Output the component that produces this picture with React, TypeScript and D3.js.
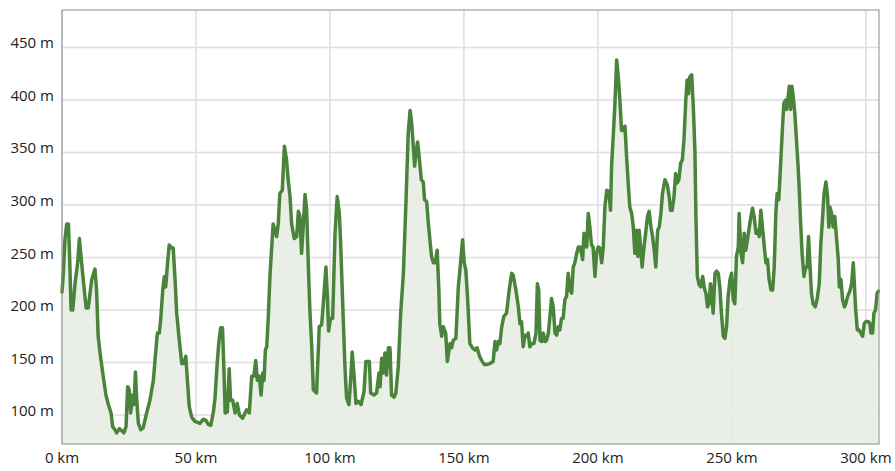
import React from "react";
import * as d3 from "d3";

const distanceKm: number[] = [
  0, 0.5, 1.1, 1.75, 2.4, 2.8, 3.4, 4.0, 4.85, 5.85, 6.5, 7.0, 7.7, 9.0, 9.8, 11.1, 12.3, 12.9, 13.5, 14.2,
  15.2, 16.4, 17.3, 18.3, 18.9, 19.8, 20.4, 21.4, 22.3, 23.1, 23.9, 24.5, 25.1, 25.6, 26.4, 26.9, 27.4, 27.9, 28.5, 29.4,
  30.3, 31.6, 32.8, 34.1, 34.7, 35.6, 36.3, 36.8, 37.6, 38.2, 38.7, 39.4, 40.0, 40.9, 41.5, 42.2, 42.8, 43.7, 44.7, 45.5,
  46.2, 46.8, 47.5, 48.4, 49.6, 51.5, 52.7, 53.7, 54.6, 55.5, 56.5, 57.1, 57.9, 58.6, 59.2, 59.9, 60.4, 60.9, 61.7, 62.4,
  62.9, 63.7, 64.6, 65.4, 66.2, 67.4, 68.9, 69.9, 70.8, 71.6, 72.3, 72.9, 73.6, 74.3, 74.9, 75.4, 75.9, 76.4, 77.0, 77.6,
  78.8, 80.1, 80.7, 81.3, 82.2, 83.0, 83.8, 84.4, 85.1, 85.7, 86.7, 87.6, 88.2, 88.8, 89.4, 90.0, 90.7, 91.3, 91.9, 92.5,
  93.2, 93.8, 95.0, 96.0, 96.9, 97.5, 98.5, 99.0, 99.5, 100.2, 101.0, 101.9, 102.7, 103.5, 104.0, 104.7, 105.6, 106.2, 107.1, 107.7,
  108.3, 109.0, 109.7, 110.6, 111.6, 112.7, 113.4, 114.7, 115.2, 116.4, 117.4, 118.3, 118.7, 119.3, 119.9, 120.5, 121.1, 121.8, 122.4, 123.0,
  123.9, 124.6, 125.5, 126.4, 127.4, 128.4, 129.2, 129.9, 130.5, 131.1, 131.6, 132.1, 132.7, 133.3, 134.1, 134.8, 135.3, 136.1, 136.7, 137.3,
  137.9, 138.6, 139.3, 140.0, 140.6, 141.0, 141.7, 142.3, 143.2, 143.8, 144.8, 145.4, 146.0, 147.0, 147.9, 148.5, 149.5, 150.1, 150.7, 151.4,
  152.2, 153.2, 154.1, 154.9, 155.7, 156.6, 157.6, 158.5, 159.7, 160.9, 161.6, 162.2, 162.8, 163.4, 164.1, 164.9, 165.9, 166.9, 167.8, 168.4,
  169.4, 170.3, 170.9, 171.5, 172.1, 172.8, 173.4, 174.0, 174.6, 175.3, 176.1, 176.9, 177.4, 177.9, 178.4, 179.0, 179.6, 180.2, 180.8, 181.5,
  182.1, 182.7, 183.3, 184.0, 184.6, 185.2, 185.8, 186.4, 187.0, 187.7, 188.3, 188.9, 189.6, 190.2, 190.8, 191.4, 192.1, 192.7, 193.3, 193.9,
  194.3, 194.8, 195.4, 195.8, 196.4, 197.0, 197.6, 198.2, 198.9, 199.5, 200.1, 200.7, 201.4, 202.0, 202.6, 203.3, 204.1, 204.7, 205.1, 205.7,
  206.3, 207.0, 207.6, 208.2, 208.8, 209.5, 210.1, 210.7, 211.3, 211.9, 212.6, 213.2, 213.8, 214.4, 214.9, 215.4, 215.9, 216.5, 217.2, 217.8,
  218.5, 219.1, 219.8, 220.4, 221.0, 221.6, 222.3, 222.9, 223.5, 224.1, 225.0, 225.9, 226.6, 227.1, 227.7, 228.4, 229.0, 229.6, 230.2, 230.9,
  231.5, 232.1, 232.8, 233.3, 233.8, 234.3, 235.0, 235.6, 236.2, 236.6, 237.1, 237.8, 238.4, 239.1, 239.7, 240.3, 240.9, 241.5, 242.0, 242.5,
  243.0, 243.7, 244.3, 244.9, 245.5, 246.1, 246.8, 247.4, 248.0, 248.6, 249.3, 249.9, 250.5, 251.1, 251.7, 252.4, 252.7, 253.4, 254.0, 254.6,
  255.2, 255.8, 256.5, 257.1, 257.7, 258.3, 259.0, 259.6, 260.2, 260.8, 261.4, 262.1, 262.7, 263.3, 263.9, 264.6, 265.2, 265.8, 266.4, 266.9,
  267.5, 268.2, 268.9, 269.4, 270.1, 270.4, 271.0, 271.4, 271.9, 272.4, 272.9, 273.5, 274.1, 274.7, 275.1, 275.6, 276.2, 276.9, 277.5, 278.1,
  278.6, 279.1, 279.7, 280.3, 281.1, 281.8, 282.6, 283.2, 283.8, 284.4, 285.1, 285.7, 286.2, 286.6, 287.2, 287.8, 288.4, 289.1, 289.7, 290.1,
  290.7, 291.3, 292.0, 292.5, 293.2, 294.0, 294.7, 295.3, 295.7, 296.2, 296.8, 297.5, 298.1, 298.8, 299.4, 300.0, 300.9, 301.5, 301.9, 302.5,
  303.0, 303.6, 304.2, 304.7,
];

const elevationM: number[] = [
  217, 235, 267, 282, 282, 254, 200, 200, 225, 245, 268, 254, 235, 202, 202, 229, 239, 219, 175, 159,
  140, 119, 110, 102, 89, 86, 83, 87, 85, 83, 89, 127, 124, 102, 119, 110, 141, 114, 92, 86,
  88, 102, 114, 133, 152, 178, 178, 190, 219, 232, 222, 245, 262, 259, 259, 229, 197, 173, 149, 149,
  156, 133, 108, 98, 94, 92, 96, 95, 91, 90, 103, 116, 149, 171, 183, 183, 146, 102, 103, 144,
  114, 114, 102, 111, 100, 97, 105, 102, 137, 137, 152, 133, 137, 119, 140, 133, 162, 165, 194, 232,
  282, 270, 282, 311, 314, 356, 343, 324, 308, 282, 268, 270, 294, 289, 254, 279, 310, 295, 245, 200,
  165, 124, 121, 184, 186, 205, 241, 215, 180, 192, 192, 273, 308, 292, 263, 210, 146, 116, 110, 133,
  160, 137, 111, 113, 110, 122, 151, 151, 121, 119, 121, 140, 127, 154, 140, 159, 138, 164, 164, 119,
  117, 121, 146, 197, 235, 305, 368, 390, 378, 356, 337, 349, 360, 346, 324, 322, 305, 303, 283, 267,
  251, 245, 245, 257, 222, 187, 175, 184, 178, 151, 168, 164, 171, 173, 222, 238, 267, 245, 238, 210,
  168, 164, 162, 164, 157, 152, 148, 148, 149, 151, 170, 162, 170, 168, 184, 194, 197, 219, 235, 233,
  219, 203, 187, 189, 165, 176, 175, 178, 165, 168, 168, 178, 225, 219, 171, 170, 178, 170, 171, 178,
  194, 211, 203, 178, 176, 184, 181, 192, 192, 210, 213, 235, 219, 216, 241, 245, 254, 260, 260, 254,
  248, 273, 270, 260, 292, 279, 262, 260, 232, 254, 260, 259, 245, 260, 298, 314, 313, 295, 337, 365,
  394, 438, 422, 400, 371, 371, 375, 346, 321, 298, 292, 279, 254, 276, 251, 276, 260, 241, 260, 273,
  289, 294, 279, 270, 257, 241, 276, 279, 292, 311, 324, 319, 308, 295, 295, 308, 330, 321, 324, 340,
  343, 362, 400, 419, 406, 422, 424, 394, 352, 286, 232, 224, 222, 232, 221, 216, 203, 206, 225, 219,
  197, 235, 237, 235, 222, 197, 175, 173, 184, 213, 229, 235, 210, 206, 251, 260, 292, 254, 245, 273,
  257, 267, 279, 289, 297, 289, 273, 276, 270, 295, 279, 260, 245, 248, 229, 219, 219, 241, 292, 311,
  305, 340, 375, 397, 400, 391, 403, 413, 391, 413, 403, 387, 362, 337, 317, 286, 254, 232, 241, 241,
  270, 245, 216, 206, 203, 210, 225, 264, 286, 311, 322, 308, 279, 298, 292, 279, 289, 267, 248, 222,
  229, 210, 203, 206, 213, 218, 225, 245, 225, 200, 181, 181, 178, 175, 187, 189, 189, 187, 178, 178,
  197, 200, 216, 218,
];

const xTicks: number[] = [0, 50, 100, 150, 200, 250, 300];
const yTicks: number[] = [100, 150, 200, 250, 300, 350, 400, 450];

const W = 895;
const H = 471;
const M = { left: 62, right: 16, top: 10, bottom: 27 };

export default function App() {
  const x = d3
    .scaleLinear()
    .domain([0, 304.9])
    .range([M.left, W - M.right]);
  const y = d3
    .scaleLinear()
    .domain([72.4, 485.7])
    .range([H - M.bottom, M.top]);

  const pts = distanceKm.map((d, i) => [d, elevationM[i]] as [number, number]);
  const line = d3
    .line<[number, number]>()
    .x((d) => x(d[0]))
    .y((d) => y(d[1]));
  const area = d3
    .area<[number, number]>()
    .x((d) => x(d[0]))
    .y0(H - M.bottom)
    .y1((d) => y(d[1]));

  const font = "'Open Sans', sans-serif";

  return (
    <svg
      width={W}
      height={H}
      style={{ position: "absolute", left: 0, top: 0, display: "block", background: "#fff" }}
    >
      {yTicks.map((t) => (
        <line
          key={"gy" + t}
          x1={M.left}
          x2={W - M.right}
          y1={y(t)}
          y2={y(t)}
          stroke="#dedede"
          strokeWidth={1.5}
        />
      ))}
      {xTicks.map((t) => (
        <line
          key={"gx" + t}
          x1={x(t)}
          x2={x(t)}
          y1={M.top}
          y2={H - M.bottom}
          stroke="#dedede"
          strokeWidth={1.5}
        />
      ))}
      <path d={area(pts) || ""} fill="#e7ece4" fillOpacity={0.9} />
      <path
        d={line(pts) || ""}
        fill="none"
        stroke="#4a843b"
        strokeWidth={3.5}
        strokeLinejoin="round"
        strokeLinecap="round"
      />
      <rect
        x={M.left}
        y={M.top}
        width={W - M.right - M.left}
        height={H - M.bottom - M.top}
        fill="none"
        stroke="#8c8c8c"
        strokeWidth={1}
      />
      {yTicks.map((t) => (
        <text
          key={"ty" + t}
          x={M.left - 8}
          y={y(t) + 1}
          textAnchor="end"
          fontFamily={font}
          fontSize={15}
          fill="#222"
        >
          {t} m
        </text>
      ))}
      {xTicks.map((t) => (
        <text
          key={"tx" + t}
          x={x(t)}
          y={463}
          textAnchor="middle"
          fontFamily={font}
          fontSize={15}
          fill="#222"
        >
          {t} km
        </text>
      ))}
    </svg>
  );
}
